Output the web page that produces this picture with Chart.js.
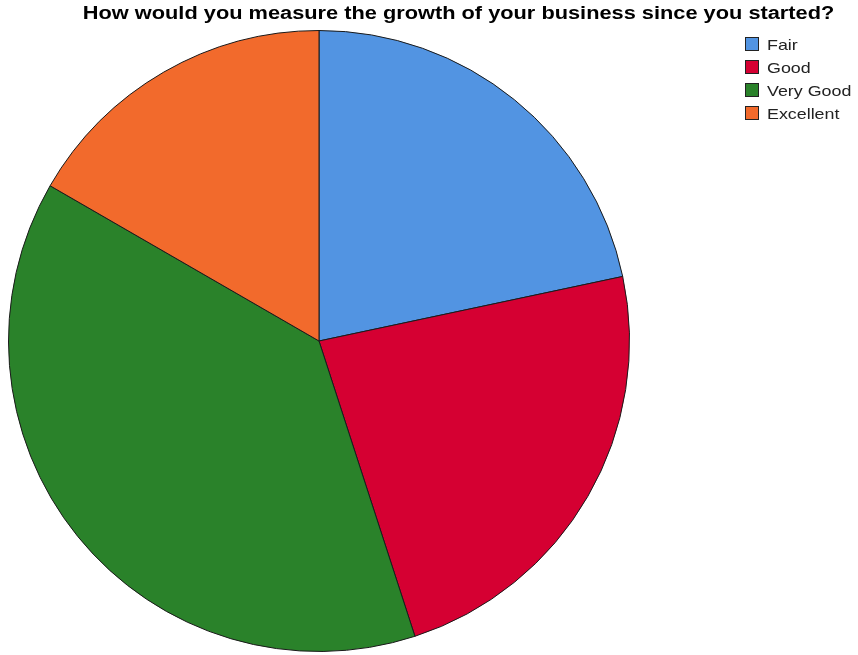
<!DOCTYPE html>
<html>
<head>
<meta charset="utf-8">
<script src="https://cdn.jsdelivr.net/npm/chart.js@4"></script>
<style>
  html, body { margin: 0; padding: 0; background: #fff; }
  #wrap { position: relative; width: 858px; height: 655px; }
  #title {
    position: absolute; left: 0; top: 4px; width: 918px;
    font: bold 18px "Liberation Sans", Arial, sans-serif; line-height: 18px; color: #000;
    white-space: nowrap; text-align: center;
  }
  #title span { display: inline-block; transform: scaleX(1.21); transform-origin: center; }
  #legend { position: absolute; left: 745px; top: 33px; font: 15px "Liberation Sans", Arial, sans-serif; color: #222; }
  #legend div { height: 23px; line-height: 23px; display: flex; align-items: flex-start; white-space: nowrap; }
  #legend span.box { display: inline-block; width: 12px; height: 12px; border: 1.5px solid #222; margin: 4px 8px 0 0; }
  #legend span.txt { display: inline-block; transform: scaleX(1.19); transform-origin: left center; }
  canvas { position: absolute; left: 0; top: 0; }
</style>
</head>
<body>
<div id="wrap">
  <canvas id="c" width="858" height="655"></canvas>
  <div id="title"><span>How would you measure the growth of your business since you started?</span></div>
  <div id="legend"></div>
</div>
<script>
// Survey responses: growth rating counts
const categories = ['Fair', 'Good', 'Very Good', 'Excellent'];
const counts = [13, 14, 23, 10];
const sliceColors = ['#5294E2', '#D50032', '#2A822A', '#F26A2C'];

const legendEl = document.getElementById('legend');
categories.forEach((name, i) => {
  const row = document.createElement('div');
  const box = document.createElement('span');
  box.className = 'box';
  box.style.background = sliceColors[i];
  const txt = document.createElement('span');
  txt.className = 'txt';
  txt.textContent = name;
  row.appendChild(box);
  row.appendChild(txt);
  legendEl.appendChild(row);
});

new Chart(document.getElementById('c'), {
  type: 'pie',
  data: {
    labels: categories,
    datasets: [{
      data: counts,
      backgroundColor: sliceColors,
      borderColor: '#1a1a1a',
      borderWidth: 1
    }]
  },
  options: {
    responsive: false,
    animation: false,
    layout: { padding: { left: 8, right: 228, top: 30, bottom: 3 } },
    plugins: {
      legend: { display: false },
      title: { display: false },
      tooltip: { enabled: false }
    }
  }
});
</script>
</body>
</html>
